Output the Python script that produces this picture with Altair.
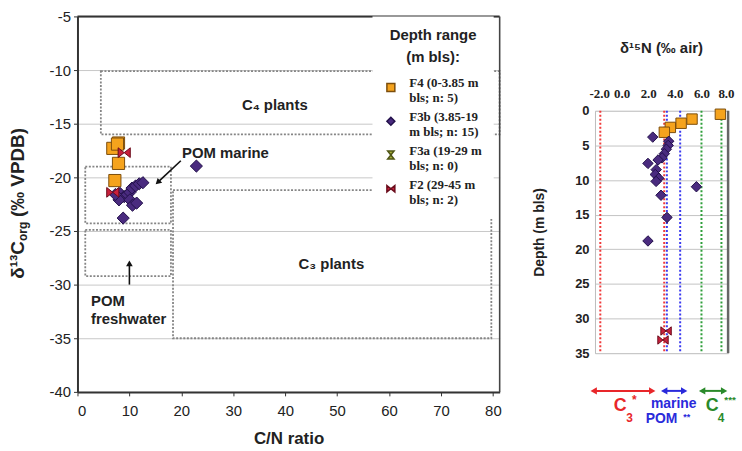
import json
import altair as alt
import pandas as pd

SANS = "Liberation Sans"
SERIF = "Liberation Serif"
INK = "#222222"

# ---- sediment units (depth ranges), shared by both panels ----
groups = ["F4", "F3b", "F3a", "F2"]
group_label_lines = [
    ["F4 (0-3.85  m", "bls; n: 5)"],
    ["F3b (3.85-19", "m bls; n: 15)"],
    ["F3a (19-29 m", "bls; n: 0)"],
    ["F2 (29-45 m", "bls; n: 2)"],
]
group_fill = ["#F5A31D", "#4A2B7F", "#A9B23A", "#C9203C"]
group_stroke = ["#7C4E0C", "#22104A", "#4F5516", "#6A0C1C"]
HOURGLASS = "M-0.8,-1L0.8,-1L0,0ZM-0.8,1L0.8,1L0,0Z"
BOWTIE = "M-1,-0.8L0,0L-1,0.8ZM1,-0.8L0,0L1,0.8Z"
group_shape = ["square", "diamond", HOURGLASS, BOWTIE]

# ---- C/N ratio vs d13C_org ----
cn_group = ["F4"] * 5 + ["F3b"] * 15 + ["F2"] * 2
cn_ratio = [7.9, 6.8, 7.9, 7.2, 7.7,
            8.2, 9.0, 9.6, 10.1, 10.5, 11.2, 11.9, 12.6, 8.0, 10.1, 10.6, 11.4, 8.8, 22.9, 7.3,
            9.0, 6.8]
d13c = [-16.8, -17.3, -18.7, -20.3, -16.9,
        -21.5, -21.8, -21.6, -21.4, -21.0, -20.8, -20.6, -20.5, -22.1, -22.1, -22.6, -22.4, -23.8, -18.95, -21.6,
        -17.7, -21.4]

# source fields (dotted boxes)
field_x1 = [4.5, 1.5, 1.5, 18.4]
field_x2 = [81.3, 18.0, 18.0, 79.7]
field_y1 = [-10.1, -19.0, -24.9, -21.2]
field_y2 = [-16.0, -24.3, -29.2, -35.0]

# ---- d15N depth profile ----
n_group = ["F4"] * 5 + ["F3b"] * 16 + ["F2"] * 2
d15n = [7.42, 5.29, 4.47, 3.66, 3.21,
        2.34, 3.54, 3.50, 3.36, 3.21, 3.04, 2.74, 1.98, 2.60, 2.53, 2.79, 2.59, 5.62, 2.96, 3.41, 1.98,
        3.34, 3.11]
depth = [0.5, 1.2, 1.8, 2.4, 3.1,
         3.8, 4.4, 5.0, 5.55, 6.2, 6.8, 7.1, 7.6, 8.5, 9.2, 9.75, 10.2, 10.97, 12.2, 15.4, 18.8,
         31.8, 33.1]

# literature end-member ranges of d15N
ref_d15n = [-1.6, 3.2, 3.4, 4.4, 6.0, 7.5]
ref_color = ["#F03A3A", "#F03A3A", "#3A3AF0", "#3A3AF0", "#2E9E3A", "#2E9E3A"]
range_lo = [-2.1, 3.2, 6.05]
range_hi = [2.3, 4.7, 7.7]
RED, BLUE, GREEN = "#E8262A", "#2A2ADB", "#2A8A2A"
range_color = [RED, BLUE, GREEN]

label_expr = ""
for g, lines in zip(groups, group_label_lines):
    label_expr += f"datum.label == {json.dumps(g)} ? {json.dumps(lines)} : "
label_expr += "datum.label"

fill_scale = alt.Scale(domain=groups, range=group_fill)
stroke_scale = alt.Scale(domain=groups, range=group_stroke)
shape_scale = alt.Scale(domain=groups, range=group_shape)

legend = alt.Legend(
    title=["Depth range", "(m bls):"], orient="none", legendX=297, legendY=0,
    fillColor="white", padding=12, titleFont=SANS, titleFontSize=15, titleFontWeight="bold",
    titleColor=INK, titleAnchor="middle", titleAlign="center", titleLineHeight=22, titlePadding=16,
    labelFont=SERIF, labelFontSize=13, labelFontWeight="bold", labelColor=INK,
    labelExpr=label_expr, labelBaseline="alphabetic", labelOffset=12, symbolSize=64, rowPadding=5,
)

# ================= left panel =================
W1, H1 = 425, 378
xs = alt.Scale(domain=[0, 81.3], nice=False, zero=False)
ys = alt.Scale(domain=[-40, -5], nice=False, zero=False)

x_axis = alt.Axis(values=list(range(0, 81, 10)), grid=False, domainColor="#333", domainWidth=2,
                  tickColor="#333", tickSize=4, labelFont=SANS, labelFontSize=15, labelColor=INK,
                  labelPadding=8, labelOverlap=False, titleFont=SANS, titleFontSize=17,
                  titleFontWeight="bold", titleColor=INK, titlePadding=12)
y_axis = alt.Axis(values=list(range(-40, -4, 5)), grid=True, gridColor="#C8C8C8", domainColor="#333",
                  domainWidth=2, tickColor="#333", tickSize=4, labelFont=SANS, labelFontSize=15,
                  labelColor=INK, labelPadding=3, labelOverlap=False, title=None,
                  labelExpr="datum.value < 0 ? '-' + abs(datum.value) : '' + datum.value")


def X(field):
    return alt.X(f"{field}:Q", scale=xs, title="C/N ratio", axis=x_axis)


def Y(field):
    return alt.Y(f"{field}:Q", scale=ys, title=None, axis=y_axis)


cn_df = pd.DataFrame({"cn": cn_ratio, "d13c": d13c, "group": cn_group})
field_df = pd.DataFrame({"x1": field_x1, "x2": field_x2, "y1": field_y1, "y2": field_y2})

boxes = alt.Chart(field_df).mark_rect(filled=False, stroke="#858585", strokeWidth=1.8,
                                      strokeDash=[2, 1.6]).encode(
    x=X("x1"), x2="x2:Q", y=Y("y1"), y2="y2:Q")

frame_top = alt.Chart(pd.DataFrame({"y": [-5]})).mark_rule(color="#333", strokeWidth=2).encode(y=Y("y"))
frame_right = alt.Chart(pd.DataFrame({"x": [81.3]})).mark_rule(color="#444", strokeWidth=1.5).encode(x=X("x"))

field_names = pd.DataFrame({"t": ["C\u2084 plants", "C\u2083 plants", "POM marine"],
                            "x": [38.0, 48.9, 28.5], "y": [-13.3, -28.1, -17.7]})
names = alt.Chart(field_names).mark_text(font=SANS, fontSize=15, fontWeight="bold", color=INK).encode(
    x=X("x"), y=Y("y"), text="t:N")

fresh = pd.DataFrame({"t": ["POM", "freshwater"], "x": [2.6, 2.6], "y": [-31.5, -33.2]})
fresh_txt = alt.Chart(fresh).mark_text(font=SANS, fontSize=15, fontWeight="bold", color=INK,
                                       align="left").encode(x=X("x"), y=Y("y"), text="t:N")

arrows = pd.DataFrame({"x1": [19.9, 10.0], "y1": [-18.45, -30.0], "x2": [15.6, 10.0],
                       "y2": [-20.4, -28.1], "ang": [227, 0]})
arrow_lines = alt.Chart(arrows).mark_rule(color="#111", strokeWidth=1.6).encode(
    x=X("x1"), y=Y("y1"), x2="x2:Q", y2="y2:Q")
arrow_heads = alt.Chart(arrows).mark_point(shape="triangle", filled=True, color="#111", size=45,
                                           opacity=1).encode(
    x=X("x2"), y=Y("y2"), angle=alt.Angle("ang:Q", scale=None))

pts_left = alt.Chart(cn_df).mark_point(filled=True, size=150, strokeWidth=1, opacity=1).encode(
    x=X("cn"), y=Y("d13c"),
    fill=alt.Fill("group:N", scale=fill_scale, legend=legend),
    stroke=alt.Stroke("group:N", scale=stroke_scale, legend=legend),
    shape=alt.Shape("group:N", scale=shape_scale, legend=legend),
)

# rotated y title: d13C with subscript "org"
ytitle_parts = [("\u03b4\u00b9\u00b3C", 19, -60, 264), ("org", 12, -55, 226), ("(\u2030 VPDB)", 19, -60, 202)]
ytitle = []
for txt, fs, px, py in ytitle_parts:
    ytitle.append(alt.Chart(pd.DataFrame({"t": [txt]})).mark_text(
        angle=270, align="left", baseline="middle", font=SANS, fontSize=fs, fontWeight="bold",
        color=INK).encode(x=alt.value(px), y=alt.value(py), text="t:N"))

left = alt.layer(boxes, frame_top, frame_right, names, fresh_txt, arrow_lines, arrow_heads,
                 pts_left, *ytitle).properties(width=W1, height=H1)

# ================= right panel =================
W2, H2 = 134, 244
x2s = alt.Scale(domain=[-2, 8], nice=False, zero=False)
y2s = alt.Scale(domain=[0, 35], nice=False, zero=False, reverse=True)

x2_axis = alt.Axis(orient="top", values=[-2, 0, 2, 4, 6, 8], grid=False, domain=False, ticks=False,
                   tickSize=0, labelFont=SERIF, labelFontSize=13, labelFontWeight="bold",
                   labelColor=INK, labelPadding=10, labelOverlap=False, labelSeparation=0,
                   labelBound=False, labelFlush=True, labelFlushOffset=6, title=None,
                   labelExpr="(datum.value < 0 ? '-' : '') + format(abs(datum.value), '.1f')")
y2_axis = alt.Axis(values=list(range(0, 36, 5)), grid=True, gridColor="#C4C4C4", domainColor="#BDBDBD",
                   ticks=False, tickSize=0, labelFont=SANS, labelFontSize=13, labelFontWeight="bold",
                   labelColor=INK, labelPadding=6, labelOverlap=False, title="Depth (m bls)",
                   titleFont=SANS, titleFontSize=14, titleFontWeight="bold", titleColor=INK,
                   titlePadding=28)


def X2(field):
    return alt.X(f"{field}:Q", scale=x2s, title=None, axis=x2_axis)


ref_df = pd.DataFrame({"x": ref_d15n, "c": ref_color})
ref_lines = alt.Chart(ref_df).mark_rule(strokeDash=[2, 2], strokeWidth=2).encode(
    x=X2("x"), color=alt.Color("c:N", scale=None))

frame_r = alt.Chart(pd.DataFrame({"x": [8]})).mark_rule(color="#666", strokeWidth=2.5).encode(x=X2("x"))

n_df = pd.DataFrame({"d15n": d15n, "depth": depth, "group": n_group})
pts_right = alt.Chart(n_df).mark_point(filled=True, size=110, strokeWidth=1, opacity=1).encode(
    x=X2("d15n"),
    y=alt.Y("depth:Q", scale=y2s, axis=y2_axis),
    fill=alt.Fill("group:N", scale=fill_scale, legend=None),
    stroke=alt.Stroke("group:N", scale=stroke_scale, legend=None),
    shape=alt.Shape("group:N", scale=shape_scale, legend=None),
)

rng_df = pd.DataFrame({"lo": range_lo, "hi": range_hi, "c": range_color})
ARROW_Y = 282
rng_lines = alt.Chart(rng_df).mark_rule(strokeWidth=2).encode(
    x=X2("lo"), x2="hi:Q", y=alt.value(ARROW_Y), color=alt.Color("c:N", scale=None))
rng_left = alt.Chart(rng_df).mark_point(shape="triangle-left", filled=True, size=55, opacity=1).encode(
    x=X2("lo"), y=alt.value(ARROW_Y), color=alt.Color("c:N", scale=None))
rng_right = alt.Chart(rng_df).mark_point(shape="triangle-right", filled=True, size=55, opacity=1).encode(
    x=X2("hi"), y=alt.value(ARROW_Y), color=alt.Color("c:N", scale=None))

# labels under the range arrows: (text, d15N position, pixel row, font size, colour)
range_notes = [
    ("C", -0.1, 297, 18, RED), ("3", 0.6, 309, 12, RED), ("*", 0.95, 291, 12, RED),
    ("marine", 3.92, 295, 14, BLUE), ("POM", 3.0, 310, 14, BLUE), ("**", 4.9, 308, 9, BLUE),
    ("C", 6.8, 297, 18, GREEN), ("4", 7.48, 309, 12, GREEN), ("***", 8.15, 291, 10, GREEN),
]
notes = []
for txt, xv, py, fs, col in range_notes:
    notes.append(alt.Chart(pd.DataFrame({"t": [txt], "x": [xv]})).mark_text(
        font=SANS, fontSize=fs, fontWeight="bold", color=col).encode(
        x=X2("x"), y=alt.value(py), text="t:N"))

right = alt.layer(ref_lines, frame_r, pts_right, rng_lines, rng_left, rng_right, *notes).properties(
    width=W2, height=H2,
    title=alt.TitleParams(text="\u03b4\u00b9\u2075N (\u2030 air)", font=SANS, fontSize=15,
                          fontWeight="bold", color=INK, offset=32, anchor="middle"),
)

# empty band that drops the depth profile below the top of the left panel
spacer = alt.Chart(pd.DataFrame({"v": [0]})).mark_point(opacity=0).encode(
    x=alt.value(0), y=alt.value(0)).properties(
    width=W2, height=23, view=alt.ViewBackground(stroke="transparent", fill="transparent"))

right_col = alt.vconcat(spacer, right, spacing=0)

chart = alt.hconcat(left, right_col, spacing=30).properties(
    padding={"left": 8, "top": 7, "right": 5, "bottom": 5}
).configure_view(stroke=None).configure(background="white")

chart.save("out.html", embed_options={"renderer": "svg", "actions": False})
